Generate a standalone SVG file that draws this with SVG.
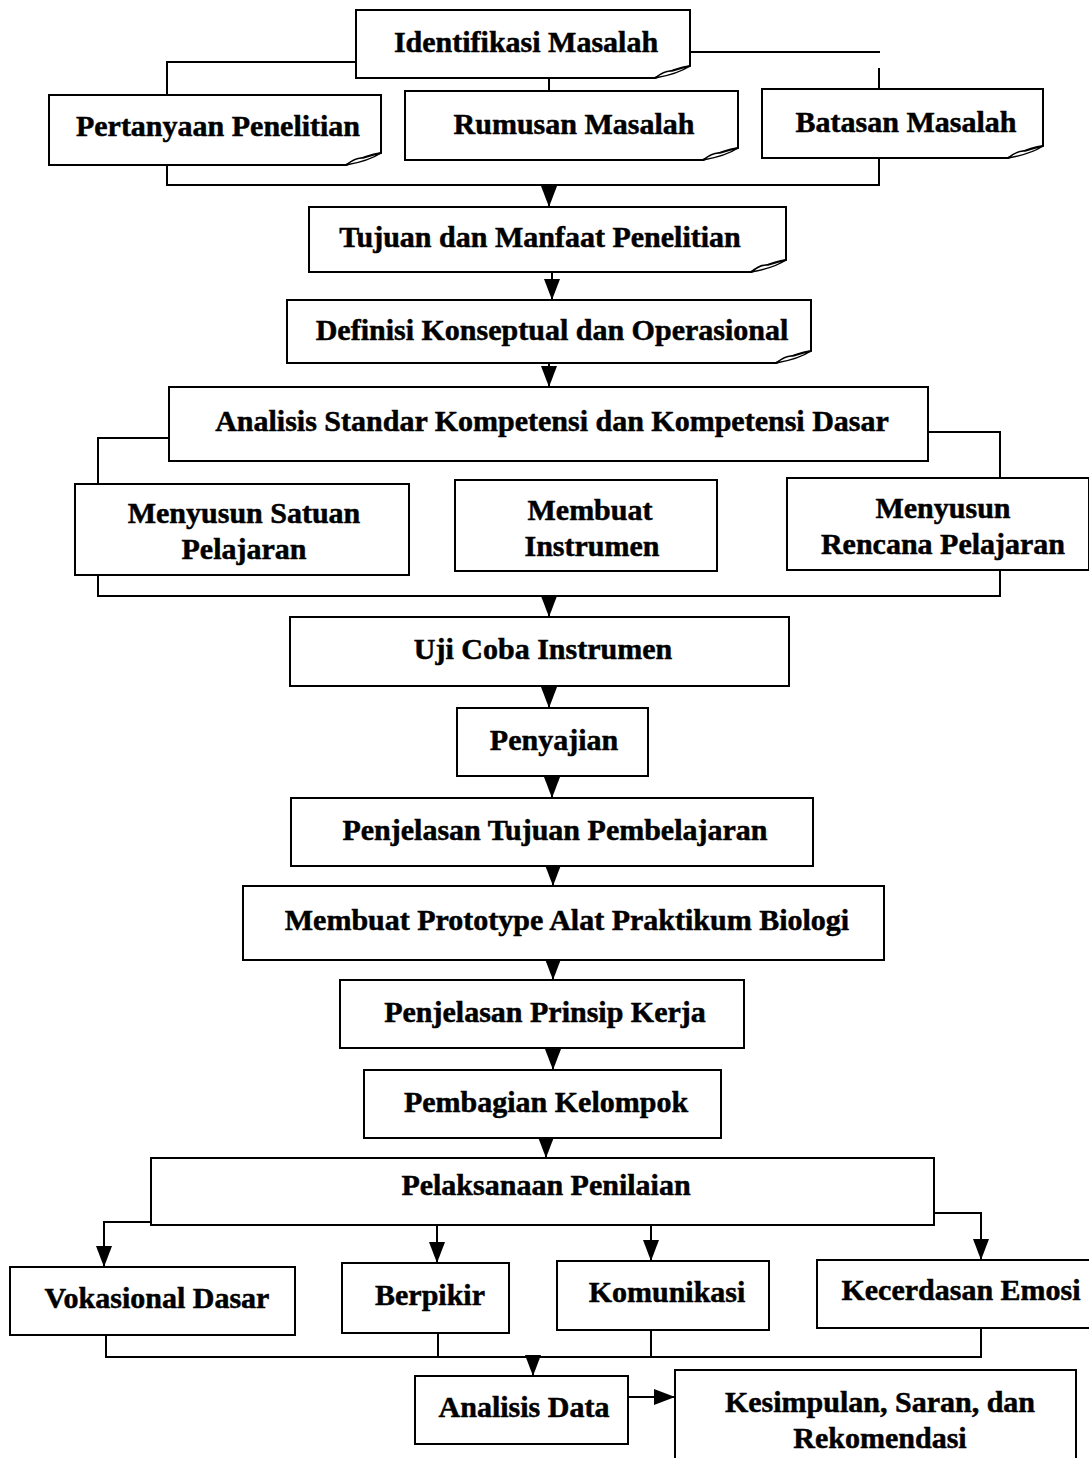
<svg xmlns="http://www.w3.org/2000/svg" width="1089" height="1458" viewBox="0 0 1089 1458">
<style>
.box{fill:#fff;stroke:#000;stroke-width:2}
.fold{fill:#fff;stroke:#000;stroke-width:1.5}
.t{font-family:"Liberation Serif","Times New Roman",serif;font-weight:bold;font-size:30px;text-anchor:middle;fill:#000;stroke:#000;stroke-width:0.5}
.c{stroke:#000;stroke-width:2;fill:none}
.a{stroke:#000;stroke-width:2;fill:none;marker-end:url(#ah)}
</style>
<defs>
<marker id="ah" markerUnits="userSpaceOnUse" markerWidth="21" markerHeight="16" viewBox="0 0 21 16" refX="21" refY="8" orient="auto">
<path d="M0,0 L21,8 L0,16 Z" fill="#000"/>
</marker>
</defs>
<rect width="1089" height="1458" fill="#fff"/>
<g id="connectors">
<path class="c" d="M356,62 H167 V95"/>
<path class="c" d="M690,52 H880"/>
<path class="c" d="M879,68 V89"/>
<path class="c" d="M549,79 V91"/>
<path class="c" d="M167,165 V185 H879 V158"/>
<path class="a" d="M549,185 V207"/>
<path class="a" d="M552,272 V300"/>
<path class="a" d="M549,363 V387"/>
<path class="c" d="M169,438 H98 V484"/>
<path class="c" d="M928,432 H1000 V478"/>
<path class="c" d="M98,575 V596 H1000 V570"/>
<path class="a" d="M549,596 V617"/>
<path class="a" d="M549,686 V708"/>
<path class="a" d="M552,776 V798"/>
<path class="a" d="M553,866 V886"/>
<path class="a" d="M553,960 V980"/>
<path class="a" d="M553,1048 V1070"/>
<path class="a" d="M546,1138 V1158"/>
<path class="a" d="M151,1222 H104 V1267"/>
<path class="a" d="M437,1218 V1263"/>
<path class="a" d="M651,1225 V1261"/>
<path class="a" d="M934,1213 H981 V1260"/>
<path class="c" d="M106,1335 V1357 H981 V1328"/>
<path class="c" d="M438,1333 V1356"/>
<path class="c" d="M651,1330 V1356"/>
<path class="a" d="M533,1357 V1376"/>
<path class="a" d="M628,1397 H675"/>
</g>
<g id="n1">
<path class="box" d="M356,10 H690 V66 Q676,68 655,78 H356 Z"/>
<path class="fold" d="M655,78 Q665,70 672,71 Q682,68 690,66 Q678,74 655,78 Z"/>
<text class="t" x="526" y="52">Identifikasi Masalah</text>
</g>
<g id="n2">
<path class="box" d="M49,95 H381 V153 Q367,155 346,165 H49 Z"/>
<path class="fold" d="M346,165 Q356,157 363,158 Q373,155 381,153 Q369,161 346,165 Z"/>
<text class="t" x="218" y="136">Pertanyaan Penelitian</text>
</g>
<g id="n3">
<path class="box" d="M405,91 H738 V148 Q724,150 703,160 H405 Z"/>
<path class="fold" d="M703,160 Q713,152 720,153 Q730,150 738,148 Q726,156 703,160 Z"/>
<text class="t" x="574" y="134">Rumusan Masalah</text>
</g>
<g id="n4">
<path class="box" d="M762,89 H1043 V146 Q1029,148 1008,158 H762 Z"/>
<path class="fold" d="M1008,158 Q1018,150 1025,151 Q1035,148 1043,146 Q1031,154 1008,158 Z"/>
<text class="t" x="906" y="132">Batasan Masalah</text>
</g>
<g id="n5">
<path class="box" d="M309,207 H786 V260 Q772,262 751,272 H309 Z"/>
<path class="fold" d="M751,272 Q761,264 768,265 Q778,262 786,260 Q774,268 751,272 Z"/>
<text class="t" x="540" y="247">Tujuan dan Manfaat Penelitian</text>
</g>
<g id="n6">
<path class="box" d="M287,300 H811 V351 Q797,353 776,363 H287 Z"/>
<path class="fold" d="M776,363 Q786,355 793,356 Q803,353 811,351 Q799,359 776,363 Z"/>
<text class="t" x="552" y="340">Definisi Konseptual dan Operasional</text>
</g>
<g id="n7">
<rect class="box" x="169" y="387" width="759" height="74"/>
<text class="t" x="552" y="431">Analisis Standar Kompetensi dan Kompetensi Dasar</text>
</g>
<g id="n8">
<rect class="box" x="75" y="484" width="334" height="91"/>
<text class="t" x="244" y="523">Menyusun Satuan</text>
<text class="t" x="244" y="559">Pelajaran</text>
</g>
<g id="n9">
<rect class="box" x="455" y="480" width="262" height="91"/>
<text class="t" x="590" y="520">Membuat</text>
<text class="t" x="592" y="556">Instrumen</text>
</g>
<g id="n10">
<rect class="box" x="787" y="478" width="302" height="92"/>
<text class="t" x="943" y="518">Menyusun</text>
<text class="t" x="943" y="554">Rencana Pelajaran</text>
</g>
<g id="n11">
<rect class="box" x="290" y="617" width="499" height="69"/>
<text class="t" x="543" y="659">Uji Coba Instrumen</text>
</g>
<g id="n12">
<rect class="box" x="457" y="708" width="191" height="68"/>
<text class="t" x="554" y="750">Penyajian</text>
</g>
<g id="n13">
<rect class="box" x="291" y="798" width="522" height="68"/>
<text class="t" x="555" y="840">Penjelasan Tujuan Pembelajaran</text>
</g>
<g id="n14">
<rect class="box" x="243" y="886" width="641" height="74"/>
<text class="t" x="567" y="930">Membuat Prototype Alat Praktikum Biologi</text>
</g>
<g id="n15">
<rect class="box" x="340" y="980" width="404" height="68"/>
<text class="t" x="545" y="1022">Penjelasan Prinsip Kerja</text>
</g>
<g id="n16">
<rect class="box" x="364" y="1070" width="357" height="68"/>
<text class="t" x="546" y="1112">Pembagian Kelompok</text>
</g>
<g id="n17">
<rect class="box" x="151" y="1158" width="783" height="67"/>
<text class="t" x="546" y="1195">Pelaksanaan Penilaian</text>
</g>
<g id="n18">
<rect class="box" x="10" y="1267" width="285" height="68"/>
<text class="t" x="157" y="1308">Vokasional Dasar</text>
</g>
<g id="n19">
<rect class="box" x="342" y="1263" width="167" height="70"/>
<text class="t" x="430" y="1305">Berpikir</text>
</g>
<g id="n20">
<rect class="box" x="557" y="1261" width="212" height="69"/>
<text class="t" x="667" y="1302">Komunikasi</text>
</g>
<g id="n21">
<rect class="box" x="817" y="1260" width="274" height="68"/>
<text class="t" x="961" y="1300">Kecerdasan Emosi</text>
</g>
<g id="n22">
<rect class="box" x="415" y="1376" width="213" height="68"/>
<text class="t" x="524" y="1417">Analisis Data</text>
</g>
<g id="n23">
<rect class="box" x="675" y="1370" width="401" height="95"/>
<text class="t" x="880" y="1412">Kesimpulan, Saran, dan</text>
<text class="t" x="880" y="1448">Rekomendasi</text>
</g>
</svg>
